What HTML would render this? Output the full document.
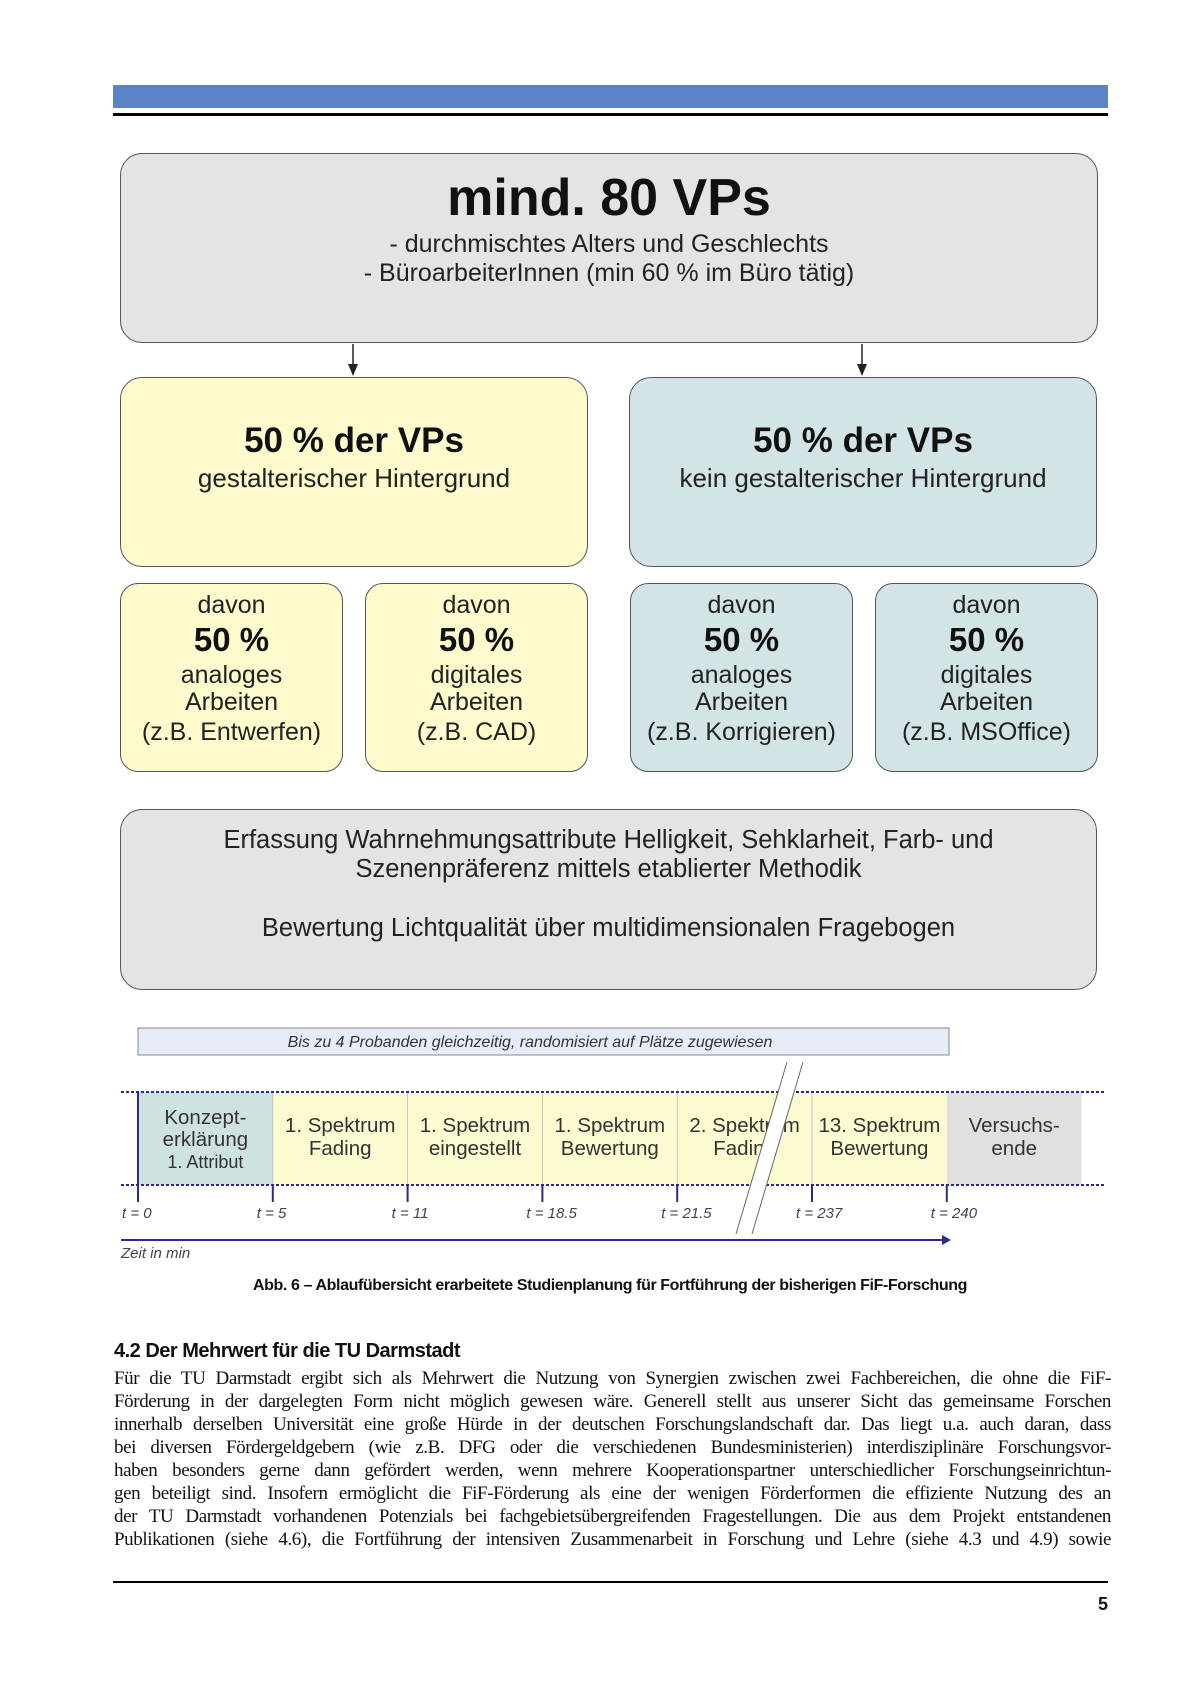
<!DOCTYPE html>
<html><head><meta charset="utf-8">
<style>
body{margin:0;background:#fff;}
#page{position:relative;width:1190px;height:1684px;background:#fff;overflow:hidden;font-family:"Liberation Sans",sans-serif;color:#222;}
.abs{position:absolute;}
.box{position:absolute;box-sizing:border-box;border:1.5px solid #555;border-radius:22px;}
.c{position:absolute;left:0;right:0;text-align:center;white-space:nowrap;}
.pl{position:absolute;left:114px;width:997px;font-family:"Liberation Serif",serif;font-size:19px;text-align:justify;text-align-last:justify;white-space:nowrap;letter-spacing:-0.4px;color:#111;}
</style></head><body>
<div id="page">
<div class="abs" style="left:113px;top:85px;width:995px;height:23px;background:#5b84c4"></div>
<div class="abs" style="left:113px;top:113px;width:995px;height:3px;background:#000"></div>

<div class="box" style="left:120px;top:153px;width:978px;height:190px;background:#e4e4e4">
  <div class="c" style="top:14px;font-size:52px;font-weight:bold;color:#111">mind. 80 VPs</div>
  <div class="c" style="top:76px;font-size:25px">- durchmischtes Alters und Geschlechts</div>
  <div class="c" style="top:105px;font-size:25px">- BüroarbeiterInnen (min 60 % im Büro tätig)</div>
</div>
<svg class="abs" style="left:0;top:0" width="1190" height="400">
  <line x1="353" y1="344" x2="353" y2="366" stroke="#222" stroke-width="1.5"/><polygon points="348,364 358,364 353,376" fill="#222"/>
  <line x1="862" y1="344" x2="862" y2="366" stroke="#222" stroke-width="1.5"/><polygon points="857,364 867,364 862,376" fill="#222"/>
</svg>

<div class="box" style="left:120px;top:377px;width:468px;height:190px;background:#fdfbcc">
  <div class="c" style="top:43px;font-size:35px;font-weight:bold;color:#111">50 % der VPs</div>
  <div class="c" style="top:85px;font-size:26px">gestalterischer Hintergrund</div>
</div>
<div class="box" style="left:629px;top:377px;width:468px;height:190px;background:#d3e4e6">
  <div class="c" style="top:43px;font-size:35px;font-weight:bold;color:#111">50 % der VPs</div>
  <div class="c" style="top:85px;font-size:26px">kein gestalterischer Hintergrund</div>
</div>

<div class="box" style="left:120px;top:583px;width:223px;height:189px;background:#fdfbcc;border-radius:18px">
  <div class="c" style="top:7px;font-size:25px">davon</div>
  <div class="c" style="top:37px;font-size:33px;font-weight:bold;color:#111">50 %</div>
  <div class="c" style="top:77px;font-size:25px">analoges</div>
  <div class="c" style="top:104px;font-size:25px">Arbeiten</div>
  <div class="c" style="top:134px;font-size:25px">(z.B. Entwerfen)</div>
</div>
<div class="box" style="left:365px;top:583px;width:223px;height:189px;background:#fdfbcc;border-radius:18px">
  <div class="c" style="top:7px;font-size:25px">davon</div>
  <div class="c" style="top:37px;font-size:33px;font-weight:bold;color:#111">50 %</div>
  <div class="c" style="top:77px;font-size:25px">digitales</div>
  <div class="c" style="top:104px;font-size:25px">Arbeiten</div>
  <div class="c" style="top:134px;font-size:25px">(z.B. CAD)</div>
</div>
<div class="box" style="left:630px;top:583px;width:223px;height:189px;background:#d3e4e6;border-radius:18px">
  <div class="c" style="top:7px;font-size:25px">davon</div>
  <div class="c" style="top:37px;font-size:33px;font-weight:bold;color:#111">50 %</div>
  <div class="c" style="top:77px;font-size:25px">analoges</div>
  <div class="c" style="top:104px;font-size:25px">Arbeiten</div>
  <div class="c" style="top:134px;font-size:25px">(z.B. Korrigieren)</div>
</div>
<div class="box" style="left:875px;top:583px;width:223px;height:189px;background:#d3e4e6;border-radius:18px">
  <div class="c" style="top:7px;font-size:25px">davon</div>
  <div class="c" style="top:37px;font-size:33px;font-weight:bold;color:#111">50 %</div>
  <div class="c" style="top:77px;font-size:25px">digitales</div>
  <div class="c" style="top:104px;font-size:25px">Arbeiten</div>
  <div class="c" style="top:134px;font-size:25px">(z.B. MSOffice)</div>
</div>

<div class="box" style="left:120px;top:809px;width:977px;height:181px;background:#e4e4e4">
  <div class="c" style="top:16px;font-size:25.5px">Erfassung Wahrnehmungsattribute Helligkeit, Sehklarheit, Farb- und</div>
  <div class="c" style="top:45px;font-size:25.5px">Szenenpräferenz mittels etablierter Methodik</div>
  <div class="c" style="top:104px;font-size:25.5px">Bewertung Lichtqualität über multidimensionalen Fragebogen</div>
</div>

<svg class="abs" id="tl" style="left:0;top:1000px" width="1190" height="280"></svg>

<div class="abs" style="left:0;width:1220px;top:1277px;text-align:center;font-size:16px;font-weight:bold;letter-spacing:-0.4px;color:#111">Abb. 6 – Ablaufübersicht erarbeitete Studienplanung für Fortführung der bisherigen FiF-Forschung</div>

<div class="abs" style="left:114px;top:1340px;font-size:20px;font-weight:bold;letter-spacing:-0.5px;color:#111">4.2 Der Mehrwert für die TU Darmstadt</div>
<div class="pl" style="top:1368px">Für die TU Darmstadt ergibt sich als Mehrwert die Nutzung von Synergien zwischen zwei Fachbereichen, die ohne die FiF-</div>
<div class="pl" style="top:1391px">Förderung in der dargelegten Form nicht möglich gewesen wäre. Generell stellt aus unserer Sicht das gemeinsame Forschen</div>
<div class="pl" style="top:1414px">innerhalb derselben Universität eine große Hürde in der deutschen Forschungslandschaft dar. Das liegt u.a. auch daran, dass</div>
<div class="pl" style="top:1437px">bei diversen Fördergeldgebern (wie z.B. DFG oder die verschiedenen Bundesministerien) interdisziplinäre Forschungsvor-</div>
<div class="pl" style="top:1460px">haben besonders gerne dann gefördert werden, wenn mehrere Kooperationspartner unterschiedlicher Forschungseinrichtun-</div>
<div class="pl" style="top:1483px">gen beteiligt sind. Insofern ermöglicht die FiF-Förderung als eine der wenigen Förderformen die effiziente Nutzung des an</div>
<div class="pl" style="top:1506px">der TU Darmstadt vorhandenen Potenzials bei fachgebietsübergreifenden Fragestellungen. Die aus dem Projekt entstandenen</div>
<div class="pl" style="top:1529px">Publikationen (siehe 4.6), die Fortführung der intensiven Zusammenarbeit in Forschung und Lehre (siehe 4.3 und 4.9) sowie</div>

<div class="abs" style="left:113px;top:1581px;width:995px;height:2px;background:#000"></div>
<div class="abs" style="left:1000px;width:108px;top:1594px;text-align:right;font-size:18px;font-weight:bold;color:#111">5</div>
</div>
<script>
const phaseLabels=[["Konzept-","erklärung","1. Attribut"],["1. Spektrum","Fading"],["1. Spektrum","eingestellt"],["1. Spektrum","Bewertung"],["2. Spektrum","Fading"],["13. Spektrum","Bewertung"],["Versuchs-","ende"]];
const phaseKinds=["intro","spec","spec","spec","spec","spec","end"];
const tickLabels=["t = 0","t = 5","t = 11","t = 18.5","t = 21.5","t = 237","t = 240"];
const svg=document.getElementById('tl');
const NS="http://www.w3.org/2000/svg";
const x0=138,cw=134.8,yTop=92,yBot=185;
function xPos(i){return x0+i*cw;}
function mk(tag,attrs,parent){const e=document.createElementNS(NS,tag);for(const k in attrs)e.setAttribute(k,attrs[k]);(parent||svg).appendChild(e);return e;}
const fills={intro:"#cfe2e2",spec:"#fcfad0",end:"#e0e0e0"};
const banner=mk('rect',{x:138,y:28,width:811,height:27,fill:"#e6ecf6",stroke:"#888","stroke-width":1});


const bt=mk('text',{x:530,y:47,"text-anchor":"middle","font-size":16,"font-style":"italic",fill:"#333","font-family":"Liberation Sans, sans-serif"});
bt.textContent="Bis zu 4 Probanden gleichzeitig, randomisiert auf Plätze zugewiesen";


phaseLabels.forEach((lines,i)=>{
  const r=mk('rect',{x:xPos(i),y:yTop,width:cw,height:yBot-yTop,fill:fills[phaseKinds[i]]});
  
  
  if(i>0&&i<6) mk('line',{x1:xPos(i),y1:yTop,x2:xPos(i),y2:yBot,stroke:"#bbb","stroke-width":0.8});
  const cx=xPos(i)+cw/2;
  const starts=lines.length===3?[124,146,168]:[132,155];
  lines.forEach((ln,j)=>{
    const t=mk('text',{x:cx,y:starts[j],"text-anchor":"middle","font-size":lines.length===3&&j==2?18:20.5,fill:"#333","font-family":"Liberation Sans, sans-serif"});
    t.textContent=ln;
    
    
  });
});
mk('line',{x1:121,y1:yTop,x2:1105,y2:yTop,stroke:"#2a2a8a","stroke-width":2,"stroke-dasharray":"3,2"});
mk('line',{x1:121,y1:yBot,x2:1105,y2:yBot,stroke:"#2a2a8a","stroke-width":2,"stroke-dasharray":"3,2"});
mk('line',{x1:x0,y1:yTop,x2:x0,y2:yBot,stroke:"#2a2a8a","stroke-width":2});
tickLabels.forEach((lb,i)=>{
  const x=xPos(i);
  const tk=mk('line',{x1:x,y1:yBot,x2:x,y2:202,stroke:"#2a2a8a","stroke-width":2});
  
  
  const t=mk('text',{x:x-16,y:218,"font-size":15,"font-style":"italic",fill:"#444","font-family":"Liberation Sans, sans-serif"});
  t.textContent=lb;
  
  
});
mk('line',{x1:121,y1:240,x2:944,y2:240,stroke:"#2a2a8a","stroke-width":2});
mk('polygon',{points:"942,235 951,240 942,245",fill:"#2a2a8a"});
const xl=mk('text',{x:121,y:258,"font-size":15,"font-style":"italic",fill:"#444","font-family":"Liberation Sans, sans-serif"});
xl.textContent="Zeit in min";


const br=mk('polygon',{points:"787,62 803,62 752,234 736,234",fill:"#fff"});


mk('line',{x1:787,y1:62,x2:736,y2:234,stroke:"#666","stroke-width":1});
mk('line',{x1:803,y1:62,x2:752,y2:234,stroke:"#666","stroke-width":1});
</script>
</body></html>
